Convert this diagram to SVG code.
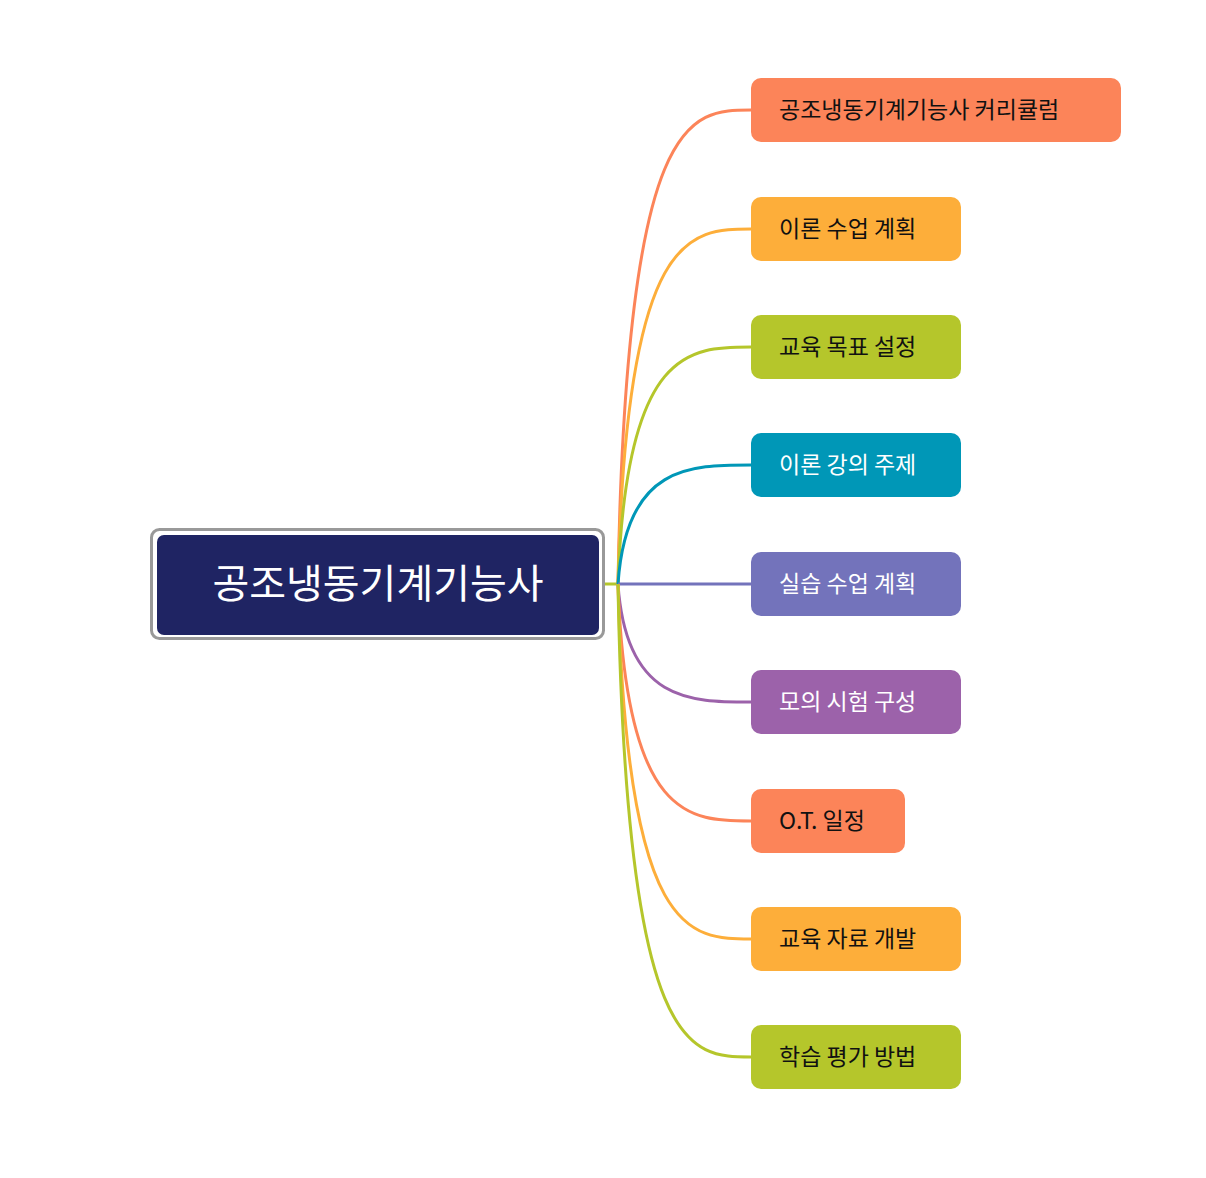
<svg xmlns="http://www.w3.org/2000/svg" width="1206" height="1178" viewBox="0 0 1206 1178">
<style>
text{font-family:"Noto Sans CJK KR","Noto Sans",sans-serif}
.t{font-size:23px;fill:#111}
.w{fill:#fff}
path{fill:none;stroke-width:3}
</style>
<rect width="1206" height="1178" fill="#fff"/>
<g id="connectors">
<path d="M603,584 H618" stroke="#B5C62B"/>
<path d="M618,584 C626,110 690,110 751,110" stroke="#FC8459"/>
<path d="M618,584 C626,229 690,229 751,229" stroke="#FDAE3A"/>
<path d="M618,584 C626,347 690,347 751,347" stroke="#B5C62B"/>
<path d="M618,584 C626,465 690,465 751,465" stroke="#0097B7"/>
<path d="M618,584 H751" stroke="#7373BB"/>
<path d="M618,584 C626,702 690,702 751,702" stroke="#9C62AA"/>
<path d="M618,584 C626,821 690,821 751,821" stroke="#FC8459"/>
<path d="M618,584 C626,939 690,939 751,939" stroke="#FDAE3A"/>
<path d="M618,584 C626,1057 690,1057 751,1057" stroke="#B5C62B"/>
</g>
<g id="root">
<rect x="151.5" y="529.5" width="452" height="109" rx="8" fill="#fff" stroke="#999" stroke-width="3"/>
<rect x="157" y="535" width="442" height="100" rx="7" fill="#1F2463"/>
<text x="378" y="598" font-size="40" fill="#fff" text-anchor="middle">공조냉동기계기능사</text>
</g>
<g id="n1"><rect x="751" y="78" width="370" height="64" rx="10" fill="#FC8459"/><text class="t" x="779" y="118">공조냉동기계기능사 커리큘럼</text></g>
<g id="n2"><rect x="751" y="197" width="210" height="64" rx="10" fill="#FDAE3A"/><text class="t" x="779" y="237">이론 수업 계획</text></g>
<g id="n3"><rect x="751" y="315" width="210" height="64" rx="10" fill="#B5C62B"/><text class="t" x="779" y="355">교육 목표 설정</text></g>
<g id="n4"><rect x="751" y="433" width="210" height="64" rx="10" fill="#0097B7"/><text class="t w" x="779" y="473">이론 강의 주제</text></g>
<g id="n5"><rect x="751" y="552" width="210" height="64" rx="10" fill="#7373BB"/><text class="t w" x="779" y="592">실습 수업 계획</text></g>
<g id="n6"><rect x="751" y="670" width="210" height="64" rx="10" fill="#9C62AA"/><text class="t w" x="779" y="710">모의 시험 구성</text></g>
<g id="n7"><rect x="751" y="789" width="154" height="64" rx="10" fill="#FC8459"/><text class="t" x="779" y="829">O.T. 일정</text></g>
<g id="n8"><rect x="751" y="907" width="210" height="64" rx="10" fill="#FDAE3A"/><text class="t" x="779" y="947">교육 자료 개발</text></g>
<g id="n9"><rect x="751" y="1025" width="210" height="64" rx="10" fill="#B5C62B"/><text class="t" x="779" y="1065">학습 평가 방법</text></g>
</svg>
